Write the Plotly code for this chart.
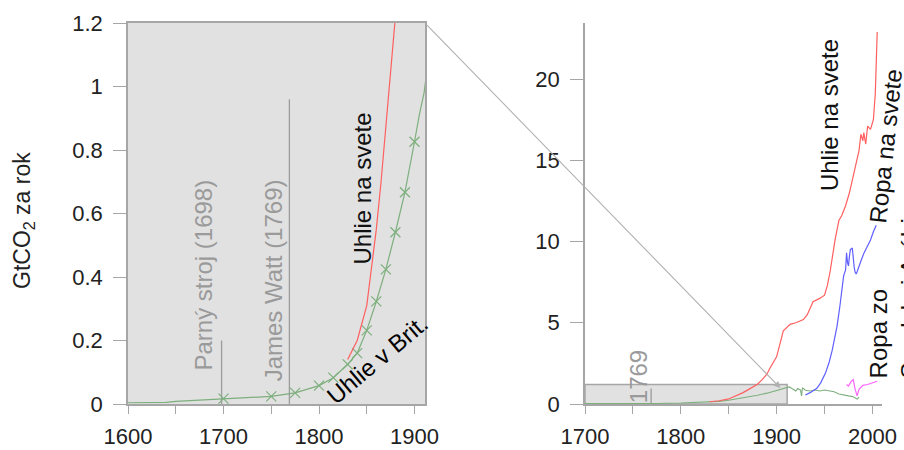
import plotly.graph_objects as go

# ---------------- data ----------------
brit_years = [1600, 1640, 1650, 1700, 1750, 1775, 1800, 1815, 1830, 1840, 1850, 1860, 1870, 1880,
              1890, 1900, 1905, 1910, 1913, 1916, 1920, 1922, 1925, 1926, 1927, 1930, 1935, 1940,
              1945, 1950, 1955, 1960, 1965, 1970, 1975, 1980, 1984, 1986]
brit_vals = [0.004, 0.005, 0.008, 0.017, 0.024, 0.035, 0.058, 0.083, 0.125, 0.16, 0.232, 0.323, 0.424, 0.541,
             0.667, 0.826, 0.91, 0.98, 1.05, 0.95, 0.8, 0.95, 0.85, 0.5, 1.0, 0.85, 0.8, 0.86,
             0.8, 0.86, 0.8, 0.75, 0.62, 0.58, 0.5, 0.45, 0.3, 0.42]
brit_marker_years = [1700, 1750, 1775, 1800, 1815, 1830, 1840, 1850, 1860, 1870, 1880, 1890, 1900]

coal_years = [1830, 1840, 1850, 1860, 1865, 1870, 1875, 1880, 1885, 1890, 1893, 1900, 1907, 1910,
              1914, 1920, 1928, 1932, 1938, 1945, 1950, 1953, 1956, 1961, 1965, 1968, 1972, 1976,
              1980, 1984, 1986, 1988, 1990, 1991, 1993, 1995, 1998, 2001, 2003, 2005]
coal_vals = [0.14, 0.2, 0.31, 0.55, 0.7, 0.87, 1.04, 1.22, 1.5, 1.85, 2.2, 2.9, 4.5, 4.65,
             4.9, 5.0, 5.2, 5.5, 6.3, 6.5, 6.7, 7.3, 8.2, 10.1, 11.3, 11.6, 12.2, 13.0,
             14.0, 15.2, 15.6, 16.6, 16.2, 16.7, 16.0, 17.1, 16.9, 17.5, 19.1, 22.9]

oil_years = [1930, 1935, 1942, 1946, 1951, 1955, 1958, 1961, 1963, 1966, 1968, 1970, 1972, 1973,
             1974, 1975, 1976, 1977, 1979, 1980, 1981, 1982, 1983, 1984, 1986, 1988, 1991, 1994,
             1998, 2001, 2004]
oil_vals = [0.55, 0.7, 0.97, 1.3, 1.9, 2.6, 3.3, 4.2, 4.76, 6.0, 7.0, 7.9, 8.25, 9.3,
            8.7, 8.5, 9.1, 9.5, 9.6, 8.9, 8.4, 8.1, 8.0, 8.14, 8.55, 8.8, 9.27, 9.6,
            10.1, 10.6, 11.0]

saudi_years = [1973, 1975, 1978, 1980, 1982, 1984, 1986, 1988, 1990, 1995, 2000, 2005]
saudi_vals = [1.2, 1.1, 1.4, 1.5, 0.9, 0.5, 0.9, 1.0, 1.15, 1.2, 1.3, 1.4]

event_years = [1698, 1769]
event_heights = [0.2, 0.96]
event_labels = ["Parný stroj (1698)", "James Watt (1769)"]

left_yticks = [0, 0.2, 0.4, 0.6, 0.8, 1, 1.2]
right_yticks = [0, 5, 10, 15, 20]
left_xticks = [1600, 1700, 1800, 1900]
right_xticks = [1700, 1800, 1900, 2000]

# ---------------- layout geometry ----------------
W, H = 904, 450
ML, MR, MT, MB = 128, 22, 23, 46
PW, PH = W - ML - MR, H - MT - MB
left_dom = [0, 297 / PW]
right_dom = [457 / PW, 1]
left_xr = [1600, 1911]
left_yr = [0, 1.2]
right_xr = [1700, 2010]
right_yr = [0, 23.45]

GREEN = "rgb(125,175,125)"
RED = "rgb(255,95,95)"
BLUE = "rgb(95,95,255)"
MAGENTA = "rgb(255,100,255)"
AXC = "#a6a6a6"
GRAYTXT = "#9a9a9a"
FONT = "Liberation Sans, Arial, sans-serif"


def to_px(x, y, dom, xr, yr):
    fx = dom[0] + (x - xr[0]) / (xr[1] - xr[0]) * (dom[1] - dom[0])
    fy = (y - yr[0]) / (yr[1] - yr[0])
    return ML + fx * PW, MT + (1 - fy) * PH


def xdomfrac(x, xr):
    return (x - xr[0]) / (xr[1] - xr[0])


fig = go.Figure()

# left panel
fig.add_trace(go.Scatter(x=brit_years, y=brit_vals, mode="lines",
                         line=dict(color=GREEN, width=1.2), xaxis="x", yaxis="y", hoverinfo="skip"))
mk = [(yr, v) for yr, v in zip(brit_years, brit_vals) if yr in brit_marker_years]
fig.add_trace(go.Scatter(x=[a for a, b in mk], y=[b for a, b in mk], mode="markers",
                         marker=dict(symbol="x-thin", size=10, line=dict(color=GREEN, width=1.2)),
                         xaxis="x", yaxis="y", hoverinfo="skip"))
fig.add_trace(go.Scatter(x=coal_years, y=coal_vals, mode="lines",
                         line=dict(color=RED, width=1.2), xaxis="x", yaxis="y", hoverinfo="skip"))

# right panel
fig.add_trace(go.Scatter(x=brit_years, y=brit_vals, mode="lines",
                         line=dict(color=GREEN, width=1.1), xaxis="x2", yaxis="y2", hoverinfo="skip"))
fig.add_trace(go.Scatter(x=coal_years, y=coal_vals, mode="lines",
                         line=dict(color=RED, width=1.2), xaxis="x2", yaxis="y2", hoverinfo="skip"))
fig.add_trace(go.Scatter(x=oil_years, y=oil_vals, mode="lines",
                         line=dict(color=BLUE, width=1.2), xaxis="x2", yaxis="y2", hoverinfo="skip"))
fig.add_trace(go.Scatter(x=saudi_years, y=saudi_vals, mode="lines",
                         line=dict(color=MAGENTA, width=1.2), xaxis="x2", yaxis="y2", hoverinfo="skip"))

shapes = [
    dict(type="rect", xref="x domain", yref="y domain", x0=0, x1=1, y0=0, y1=1,
         fillcolor="#e1e1e1", line=dict(width=0), layer="below"),
    dict(type="rect", xref="x2", yref="y2", x0=right_xr[0], x1=left_xr[1], y0=left_yr[0], y1=left_yr[1],
         fillcolor="#e1e1e1", line=dict(color=AXC, width=1.5), layer="below"),
]
for yr, h in zip(event_years, event_heights):
    shapes.append(dict(type="line", xref="x", yref="y", x0=yr, x1=yr, y0=0, y1=h,
                       line=dict(color="#9c9c9c", width=1.3), layer="below"))
shapes.append(dict(type="line", xref="x2", yref="y2", x0=event_years[1], x1=event_years[1], y0=0,
                   y1=event_heights[1], line=dict(color="#9c9c9c", width=1.3), layer="below"))

# connector line from the left panel's top-right corner toward the zoom rectangle
tail = to_px(left_xr[1], left_yr[1], left_dom, left_xr, left_yr)
tip_x, tip_y = 1904, 0.98
tip = to_px(tip_x, tip_y, right_dom, right_xr, right_yr)

tf = dict(family=FONT, size=24, color="#111")
gf = dict(family=FONT, size=24, color=GRAYTXT)

annotations = [
    # y title
    dict(xref="paper", yref="paper", x=(23 - ML) / PW, y=(H - MB - 221) / PH, text="GtCO<sub>2</sub> za rok",
         textangle=-90, showarrow=False, font=dict(family=FONT, size=23, color="#222"),
         xanchor="center", yanchor="middle"),
    dict(xref="x", yref="y", x=1845.5, y=0.68, text="Uhlie na svete", textangle=-90, showarrow=False,
         font=tf, xanchor="center", yanchor="middle"),
    dict(xref="x", yref="y", x=1861, y=0.14, text="Uhlie v Brit.", textangle=-40, showarrow=False,
         font=dict(family=FONT, size=24, color="#000"), xanchor="center", yanchor="middle"),
    dict(xref="x", yref="y", x=1679, y=0.406, text=event_labels[0], textangle=-90, showarrow=False,
         font=gf, xanchor="center", yanchor="middle"),
    dict(xref="x", yref="y", x=1752, y=0.39, text=event_labels[1], textangle=-90, showarrow=False,
         font=gf, xanchor="center", yanchor="middle"),
    dict(xref="x2", yref="y2", x=1755.5, y=1.66, text="1769", textangle=-90, showarrow=False,
         font=gf, xanchor="center", yanchor="middle"),
    dict(xref="x2", yref="y2", x=1956, y=17.8, text="Uhlie na svete", textangle=-90, showarrow=False,
         font=tf, xanchor="center", yanchor="middle"),
    dict(xref="x2 domain", yref="y2", x=xdomfrac(2014, right_xr), y=15.9, text="Ropa na svete",
         textangle=-84, showarrow=False, font=tf, xanchor="center", yanchor="middle"),
    dict(xref="x2 domain", yref="y2", x=xdomfrac(2022, right_xr), y=6.9, text="Ropa zo<br>Saudskej Arábie",
         textangle=-90, showarrow=False, font=tf, xanchor="center", yanchor="middle", align="left"),
    dict(xref="x2", yref="y2", x=tip_x, y=tip_y, text=" ", showarrow=True,
         ax=tail[0] - tip[0], ay=tail[1] - tip[1], arrowhead=2, arrowsize=1.2,
         arrowwidth=1.1, arrowcolor="#b0b0b0", standoff=0, startstandoff=0, font=dict(size=2)),
]

axfont = dict(family=FONT, size=22, color="#222")
common_x = dict(showgrid=False, zeroline=False, showline=True, linecolor=AXC, linewidth=1.5,
                ticks="outside", ticklen=8, tickcolor=AXC, tickwidth=1.3, tickfont=axfont,
                ticklabelstandoff=4, automargin=False,
                minor=dict(dtick=50, ticks="outside", ticklen=8, tickcolor=AXC, tickwidth=1.3))
common_y = dict(showgrid=False, zeroline=False, showline=True, linecolor=AXC, linewidth=1.5,
                ticks="outside", ticklen=13, tickcolor=AXC, tickwidth=1.3, tickfont=axfont,
                ticklabelstandoff=6, automargin=False)

fig.update_layout(
    width=W, height=H, margin=dict(l=ML, r=MR, t=MT, b=MB, autoexpand=False),
    paper_bgcolor="white", plot_bgcolor="rgba(0,0,0,0)", showlegend=False,
    xaxis=dict(domain=left_dom, range=left_xr, tickvals=left_xticks, anchor="y", mirror=True, **common_x),
    yaxis=dict(range=left_yr, tickvals=left_yticks, anchor="x", mirror=True, **common_y),
    xaxis2=dict(domain=right_dom, range=right_xr, tickvals=right_xticks, anchor="y2", **common_x),
    yaxis2=dict(range=right_yr, tickvals=right_yticks, anchor="x2", **common_y),
    shapes=shapes, annotations=annotations,
)

fig.write_html("out.html")
